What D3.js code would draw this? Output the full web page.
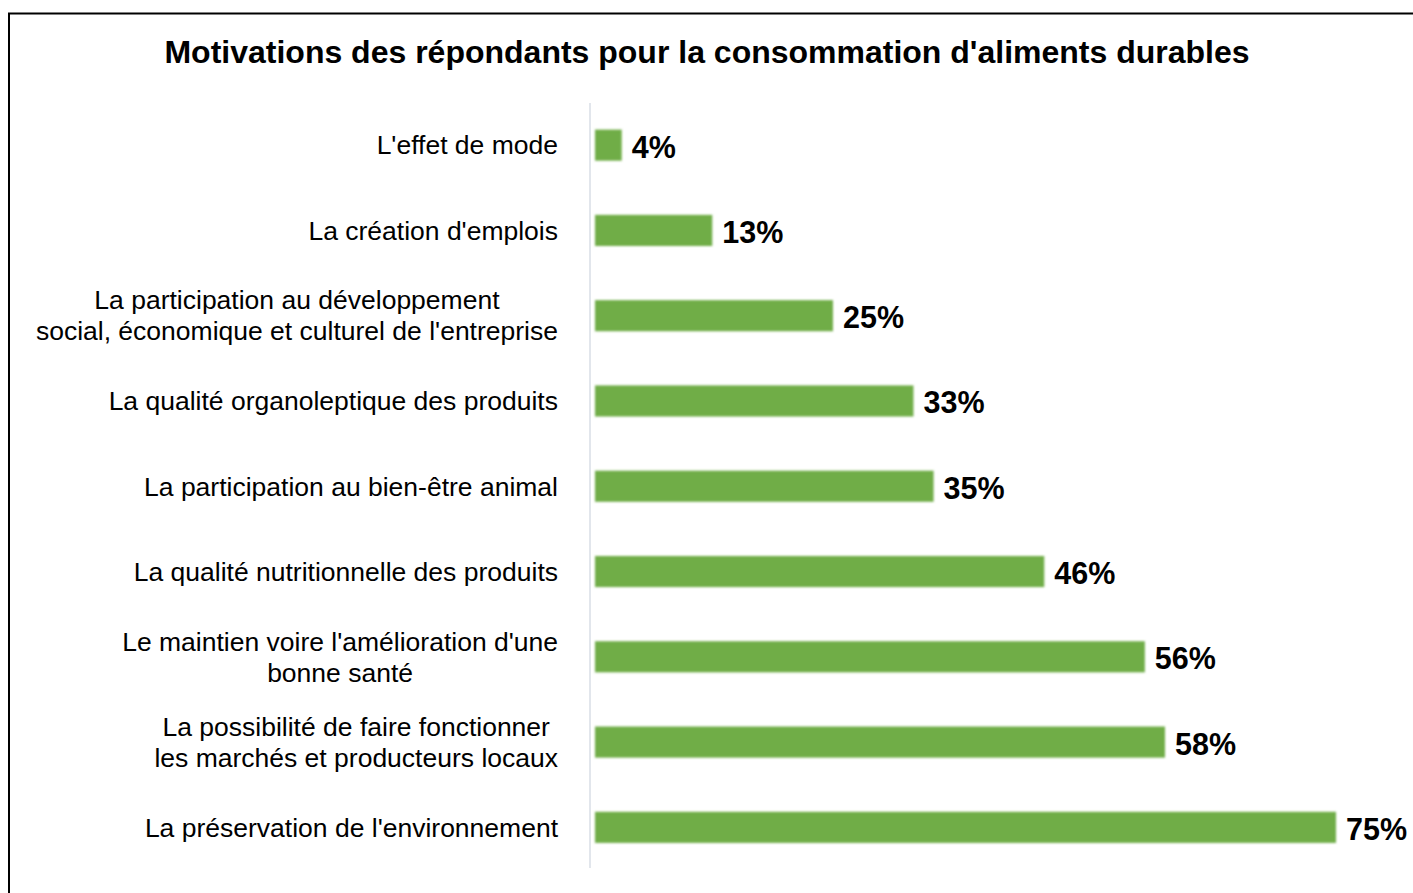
<!DOCTYPE html>
<html>
<head>
<meta charset="utf-8">
<script src="https://cdn.jsdelivr.net/npm/d3@7/dist/d3.min.js"></script>
<style>
  html, body { margin: 0; padding: 0; background: #fff; }
  svg { display: block; }
  text { font-family: "Liberation Sans", Arial, Helvetica, sans-serif; fill: #000; }
</style>
</head>
<body>
<div id="chart"></div>
<script>
// Motivations for buying sustainable food (share of respondents, %)
const title = "Motivations des répondants pour la consommation d'aliments durables";
const categories = [
  "L'effet de mode",
  "La création d'emplois",
  "La participation au développement\nsocial, économique et culturel de l'entreprise",
  "La qualité organoleptique des produits",
  "La participation au bien-être animal",
  "La qualité nutritionnelle des produits",
  "Le maintien voire l'amélioration d'une\nbonne santé",
  "La possibilité de faire fonctionner\nles marchés et producteurs locaux",
  "La préservation de l'environnement"
];
const values = [4, 13, 25, 33, 35, 46, 56, 58, 75];
const valueLabels = ["4%", "13%", "25%", "33%", "35%", "46%", "56%", "58%", "75%"];

const W = 1413, H = 893;
const axisX = 590;          // category axis line
const barStart = axisX + 5; // bars begin just right of the axis
const labelRight = 558;     // right edge of category label blocks

const svg = d3.select("#chart").append("svg")
  .attr("width", W).attr("height", H);

// soft edges on the bars
const defs = svg.append("defs");
defs.append("filter").attr("id", "soft")
  .attr("x", "-5%").attr("y", "-20%").attr("width", "110%").attr("height", "140%")
  .append("feGaussianBlur").attr("stdDeviation", 0.9);

// frame
svg.append("path")
  .attr("d", `M9,${H} V13.5 H${W}`)
  .attr("fill", "none").attr("stroke", "#000").attr("stroke-width", 2);

// title
svg.append("text")
  .attr("x", W / 2 + 0.5).attr("y", 63)
  .attr("text-anchor", "middle")
  .style("font-size", "32px").style("font-weight", "bold")
  .text(title);

const x = d3.scaleLinear().domain([0, 80]).range([581.5, 581.5 + 80 * 10.06]);
const y = d3.scaleBand().domain(categories).range([102.5, 870]).paddingInner(0.635).paddingOuter(0.3175);

// axis line
svg.append("line")
  .attr("x1", axisX).attr("x2", axisX)
  .attr("y1", 103).attr("y2", 868)
  .attr("stroke", "#d9dee6").attr("stroke-width", 1.5);

// bars
svg.append("g").attr("filter", "url(#soft)")
  .selectAll("rect").data(values).join("rect")
  .attr("x", barStart)
  .attr("y", (d, i) => y(categories[i]))
  .attr("width", d => x(d) - barStart)
  .attr("height", y.bandwidth())
  .attr("fill", "#70ad47");

// value labels
svg.append("g").selectAll("text").data(values).join("text")
  .attr("x", d => x(d) + 10)
  .attr("y", (d, i) => y(categories[i]) + y.bandwidth() / 2)
  .attr("dy", "0.41em")
  .style("font-size", "30.5px").style("font-weight", "bold")
  .text((d, i) => valueLabels[i]);

// category labels: wrapped lines centred within a right-aligned block
const lineH = 31;
const catG = svg.append("g").style("font-size", "26.5px");
categories.forEach((c, i) => {
  const lines = c.split("\n");
  const cy = y(c) + y.bandwidth() / 2;
  const t = catG.append("text").attr("text-anchor", "middle");
  const spans = lines.map((ln, k) =>
    t.append("tspan").attr("x", 0)
      .attr("y", cy + (k - (lines.length - 1) / 2) * lineH)
      .attr("dy", "0.35em").text(ln));
  const maxW = d3.max(spans, s => s.node().getComputedTextLength());
  const cx = labelRight - maxW / 2;
  spans.forEach(s => s.attr("x", cx));
});
</script>
</body>
</html>
